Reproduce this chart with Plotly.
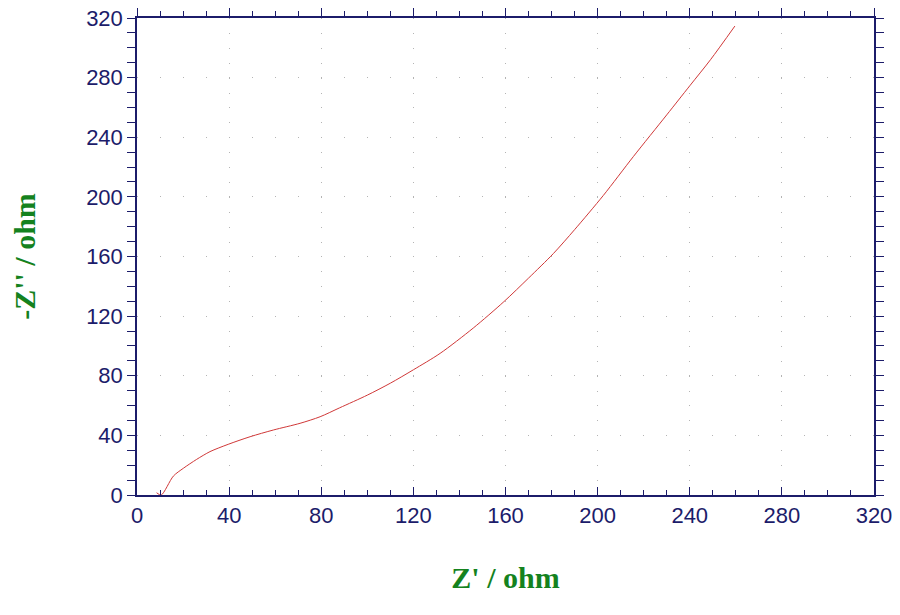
import plotly.graph_objects as go

# Nyquist data
z_real = [8.5, 10.5, 15.8, 20.1, 25.9, 31.7, 39.6, 49.1, 59.2, 70.8, 79.5,
          88.0, 100.0, 110.0, 120.0, 131.6, 146.0, 159.3, 170.0, 180.8, 190.0,
          202.5, 215.5, 230.0, 240.0, 249.0, 259.6]
z_imag = [1.5, 0.0, 12.7, 17.9, 23.9, 29.1, 34.0, 39.1, 43.6, 48.1, 52.5,
          58.5, 67.0, 75.0, 84.0, 95.0, 112.0, 129.7, 145.5, 162.0, 178.0,
          201.0, 227.0, 255.0, 274.5, 292.0, 314.6]

tick_vals = [0, 40, 80, 120, 160, 200, 240, 280, 320]

NAVY = "#1c1c6a"
GREEN = "#14821e"
GRID = "#b4b4b4"

fig = go.Figure()
fig.add_trace(go.Scatter(x=z_real, y=z_imag, mode="lines",
                         line=dict(color="#d03838", width=1, shape="spline", smoothing=0.8),
                         showlegend=False, hoverinfo="x+y"))
# dummy trace to bring up the top axis
fig.add_trace(go.Scatter(x=[None], y=[None], xaxis="x2", showlegend=False))

tick_font = dict(family="Liberation Sans, Arial", size=22, color=NAVY)
title_font = dict(family="Liberation Serif, Times New Roman", size=30, color=GREEN)

# page body has an 8px margin, so the figure is shrunk by that much
fig.update_layout(
    width=892, height=607,
    margin=dict(l=129, r=26, t=10, b=120, autoexpand=False),
    paper_bgcolor="white", plot_bgcolor="white",
    xaxis=dict(
        range=[0, 320], tickvals=tick_vals, tickfont=tick_font, automargin=False,
        ticklabeloverflow="allow",
        ticks="inside", ticklen=8, tickwidth=1, tickcolor=NAVY,
        minor=dict(dtick=10, tick0=0, ticks="inside", ticklen=5, tickcolor=NAVY, showgrid=False),
        showline=True, linecolor=NAVY, linewidth=1.5,
        showgrid=True, gridcolor=GRID, gridwidth=1, griddash="1px,13.9px",
        zeroline=False,
        title=dict(text="<b>Z' / ohm</b>", font=title_font, standoff=40),
    ),
    xaxis2=dict(
        range=[0, 320], overlaying="x", side="top", tickvals=tick_vals, automargin=False,
        showticklabels=False, ticks="outside", ticklen=8, tickcolor=NAVY,
        minor=dict(dtick=10, tick0=0, ticks="outside", ticklen=5, tickcolor=NAVY),
        showline=True, linecolor=NAVY, linewidth=1.5, showgrid=False, zeroline=False,
    ),
    yaxis=dict(
        range=[0, 320], tickvals=tick_vals, tickfont=tick_font, automargin=False,
        ticklabeloverflow="allow",
        ticks="outside", ticklen=8, tickwidth=1, tickcolor=NAVY,
        minor=dict(dtick=10, tick0=0, ticks="outside", ticklen=5, tickcolor=NAVY, showgrid=False),
        showline=True, linecolor=NAVY, linewidth=1.5, mirror="allticks",
        showgrid=True, gridcolor=GRID, gridwidth=1, griddash="1px,22px",
        zeroline=False,
        title=dict(text="<b>-Z'' / ohm</b>", font=title_font, standoff=42),
    ),
)

fig.write_html("out.html")
